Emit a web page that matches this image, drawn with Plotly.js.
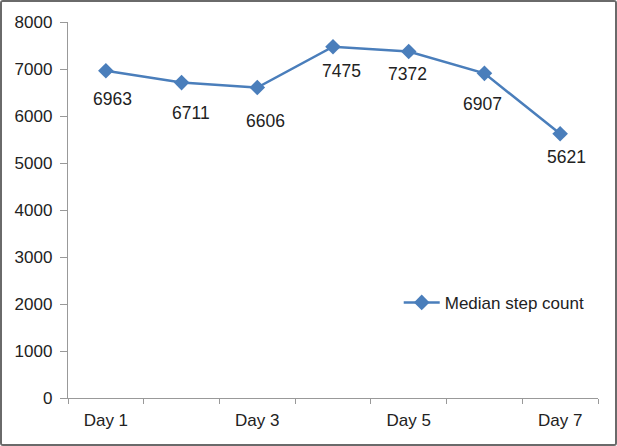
<!DOCTYPE html>
<html><head><meta charset="utf-8">
<script src="https://cdn.plot.ly/plotly-3.0.1.min.js"></script>
<style>
html,body{margin:0;padding:0;background:#fff;}
#wrap{width:617px;height:446px;box-sizing:border-box;border:2px solid #6a6a6a;border-radius:3px;overflow:hidden;}
#chart{width:613px;height:442px;}
</style></head>
<body><div id="wrap"><div id="chart"></div></div>
<script>
var days = ['Day 1','Day 2','Day 3','Day 4','Day 5','Day 6','Day 7'];
var dayLabels = ['Day 1','','Day 3','','Day 5','','Day 7'];
var medianSteps = [6963, 6711, 6606, 7475, 7372, 6907, 5621];
var yTicks = [0,1000,2000,3000,4000,5000,6000,7000,8000];
// pixel offsets of each data label from its point (label placement, not data)
var labelDx = [7, 9, 8, 8, -1, -2, 6];
var labelDy = [28, 30, 33, 24, 22, 31, 23];

var FONT = 'Liberation Sans, Arial, sans-serif';
var trace = {
  x: days, y: medianSteps, type: 'scatter', mode: 'lines+markers',
  name: 'Median step count',
  line: {color: '#4a7ebb', width: 2.5},
  marker: {symbol: 'diamond', size: 12, color: '#4a7ebb'},
  cliponaxis: false
};
var annotations = days.map(function(d, i){
  return {x: d, y: medianSteps[i], xref: 'x', yref: 'y', text: String(medianSteps[i]),
          showarrow: false, xanchor: 'center', yanchor: 'middle',
          xshift: labelDx[i], yshift: -labelDy[i],
          font: {family: FONT, size: 17.5, color: '#222'}};
});
var layout = {
  width: 613, height: 442,
  margin: {l: 65.7, r: 17.3, t: 20, b: 45.7},
  paper_bgcolor: '#fff', plot_bgcolor: '#fff',
  font: {family: FONT, size: 17, color: '#222'},
  showlegend: true,
  annotations: annotations,
  legend: {x: 0.624, y: 0.253, xanchor: 'left', yanchor: 'middle', bgcolor: 'rgba(0,0,0,0)',
           font: {size: 17, color: '#222'}, itemwidth: 36},
  xaxis: {type: 'category', tickvals: days, ticktext: dayLabels, tickson: 'boundaries',
          ticks: 'outside', ticklen: 5, tickcolor: '#999', showline: true, linecolor: '#999',
          linewidth: 1.2, showgrid: false, zeroline: false, range: [-0.5, 6.5],
          ticklabelstandoff: 6},
  yaxis: {range: [0, 8000], tickvals: yTicks, ticks: 'outside', ticklen: 7, tickcolor: '#999',
          showline: true, linecolor: '#999', linewidth: 1.2, showgrid: false, zeroline: false,
          ticklabelstandoff: 4}
};
Plotly.newPlot('chart', [trace], layout, {displayModeBar: false, staticPlot: true});
</script></body></html>
